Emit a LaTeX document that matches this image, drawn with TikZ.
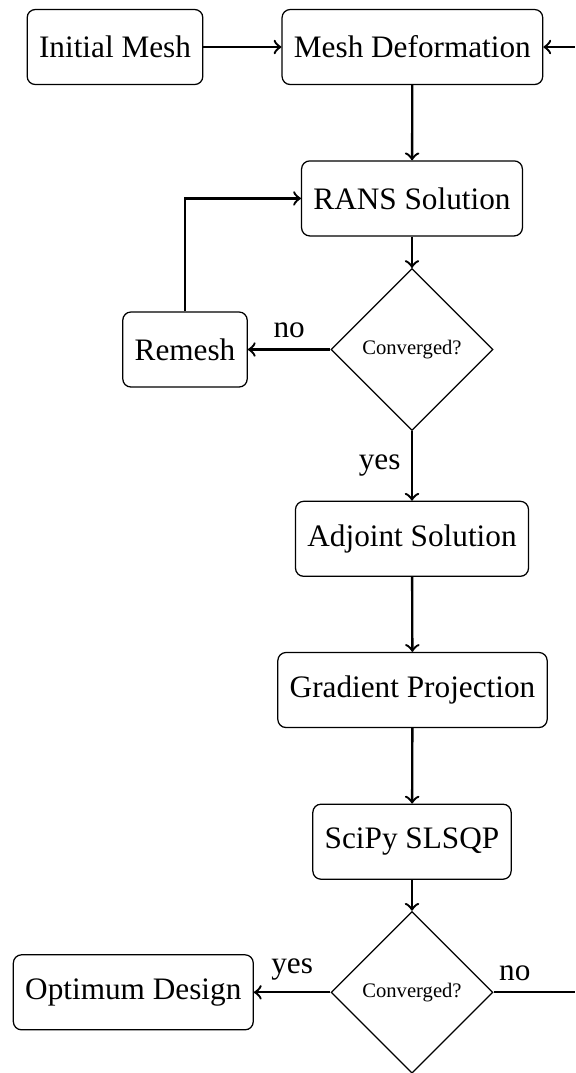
\documentclass[tikz,border=0pt]{standalone}
\usepackage{fontspec}
\setmainfont{Liberation Serif}
\usetikzlibrary{shapes.geometric}

\begin{document}
\begin{tikzpicture}[x=0.32pt,y=-0.32pt,
  block/.style={draw,rounded corners=2.6pt,line width=0.4pt,minimum height=24pt,inner xsep=3.8pt},
  decision/.style={draw,diamond,aspect=1,line width=0.4pt,inner sep=0pt,minimum size=51.8pt,font=\fontsize{6.6}{8}\selectfont},
  flow/.style={->,line width=0.75pt}]
 \clip (0,0) rectangle (575,1073);
 \node[block] (init) at (115,47) {Initial Mesh};
 \node[block] (mdef) at (412.4,47) {Mesh Deformation};
 \node[block] (rans) at (412,198.4) {RANS Solution};
 \node[decision] (conv1) at (412,349.5) {Converged?};
 \node[block] (remesh) at (185,349.5) {Remesh};
 \node[block] (adj) at (412,538.8) {Adjoint Solution};
 \node[block] (grad) at (412.5,690) {Gradient Projection};
 \node[block] (slsqp) at (412,841.7) {SciPy SLSQP};
 \node[decision] (conv2) at (412,992.3) {Converged?};
 \node[block] (optim) at (133.3,992.3) {Optimum Design};
 \coordinate (back) at (590,992.3);

 \draw [flow] (init) -- (mdef);
 \draw [flow] (mdef) -- (rans);
 \draw [flow] (rans) -- (conv1);
 \draw [flow] (conv1) -- node[above] {no} (remesh);
 \draw [flow] (remesh) |- (rans);
 \draw [flow] (conv1) -- node[left] {yes} (adj);
 \draw [flow] (adj) -- (grad);
 \draw [flow] (grad) -- (slsqp);
 \draw [flow] (slsqp) -- (conv2);
 \draw [flow] (conv2) -- node[above] {yes} (optim);
 \draw [flow] (conv2) -- node[above,pos=0.22] {no} (back) |- (mdef);
\end{tikzpicture}
\end{document}
